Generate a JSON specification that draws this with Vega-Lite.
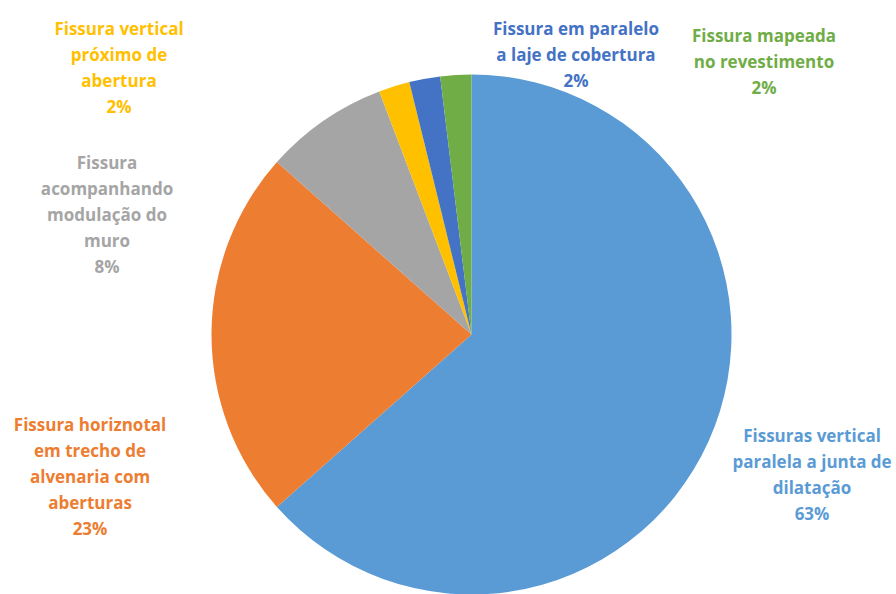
{
  "$schema": "https://vega.github.io/schema/vega-lite/v6.json",
  "width": 849,
  "height": 519,
  "autosize": {"type": "none"},
  "padding": {"left": 47, "top": 75, "right": 0, "bottom": 0},
  "background": "white",
  "config": {
    "view": {"stroke": null},
    "text": {"font": "Open Sans", "fontWeight": "bold", "fontSize": 17, "lineBreak": "\n", "lineHeight": 26, "align": "center", "baseline": "middle"}
  },
  "data": {
    "values": [
      {"order": 1, "category": "Fissuras vertical paralela a junta de dilatação", "label": "Fissuras vertical\nparalela a junta de\ndilatação\n63%", "count": 33},
      {"order": 2, "category": "Fissura horiznotal em trecho de alvenaria com aberturas", "label": "Fissura horiznotal\nem trecho de\nalvenaria com\naberturas\n23%", "count": 12},
      {"order": 3, "category": "Fissura acompanhando modulação do muro", "label": "Fissura\nacompanhando\nmodulação do\nmuro\n8%", "count": 4},
      {"order": 4, "category": "Fissura vertical próximo de abertura", "label": "Fissura vertical\npróximo de\nabertura\n2%", "count": 1},
      {"order": 5, "category": "Fissura em paralelo a laje de cobertura", "label": "Fissura em paralelo\na laje de cobertura\n2%", "count": 1},
      {"order": 6, "category": "Fissura mapeada no revestimento", "label": "Fissura mapeada\nno revestimento\n2%", "count": 1}
    ]
  },
  "encoding": {
    "color": {
      "field": "category",
      "type": "nominal",
      "legend": null,
      "scale": {
        "domain": [
          "Fissuras vertical paralela a junta de dilatação",
          "Fissura horiznotal em trecho de alvenaria com aberturas",
          "Fissura acompanhando modulação do muro",
          "Fissura vertical próximo de abertura",
          "Fissura em paralelo a laje de cobertura",
          "Fissura mapeada no revestimento"
        ],
        "range": ["#5B9BD5", "#ED7D31", "#A5A5A5", "#FFC000", "#4472C4", "#70AD47"]
      }
    }
  },
  "layer": [
    {
      "mark": {"type": "arc", "outerRadius": 260},
      "encoding": {
        "theta": {"field": "count", "type": "quantitative", "stack": true},
        "order": {"field": "order", "type": "quantitative"}
      }
    },
    {
      "transform": [{"filter": {"field": "order", "equal": 1}}],
      "mark": {"type": "text", "theta": 1.8631, "radius": 355.6},
      "encoding": {"text": {"field": "label", "type": "nominal"}}
    },
    {
      "transform": [{"filter": {"field": "order", "equal": 2}}],
      "mark": {"type": "text", "theta": 4.4770, "radius": 392.3},
      "encoding": {"text": {"field": "label", "type": "nominal"}}
    },
    {
      "transform": [{"filter": {"field": "order", "equal": 3}}],
      "mark": {"type": "text", "theta": 5.1500, "radius": 402.4},
      "encoding": {"text": {"field": "label", "type": "nominal"}}
    },
    {
      "transform": [{"filter": {"field": "order", "equal": 4}}],
      "mark": {"type": "text", "theta": 5.4248, "radius": 465.8},
      "encoding": {"text": {"field": "label", "type": "nominal"}}
    },
    {
      "transform": [{"filter": {"field": "order", "equal": 5}}],
      "mark": {"type": "text", "theta": 0.3305, "radius": 321.9},
      "encoding": {"text": {"field": "label", "type": "nominal"}}
    },
    {
      "transform": [{"filter": {"field": "order", "equal": 6}}],
      "mark": {"type": "text", "theta": 0.7769, "radius": 417.2},
      "encoding": {"text": {"field": "label", "type": "nominal"}}
    }
  ]
}
